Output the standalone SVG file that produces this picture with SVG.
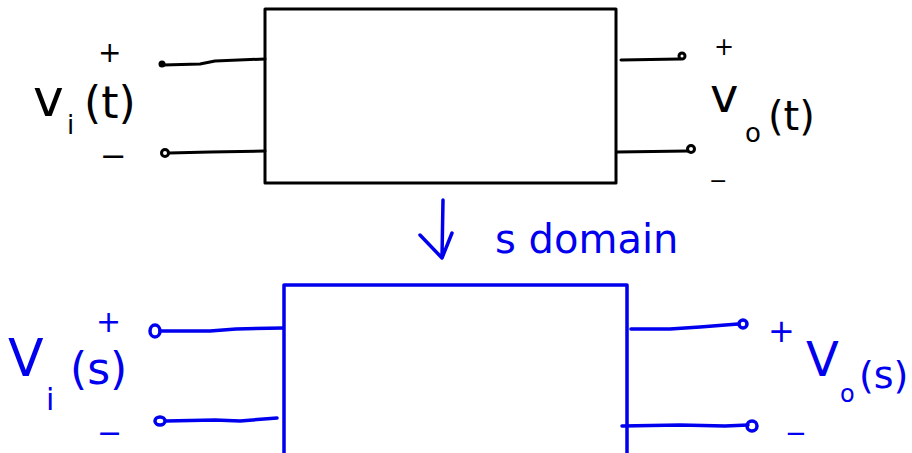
<svg xmlns="http://www.w3.org/2000/svg" width="912" height="453" viewBox="0 0 912 453">
<style>
.k{fill:none;stroke:#000;stroke-width:3;stroke-linecap:round;stroke-linejoin:round}
.b{fill:none;stroke:#0000ee;stroke-width:3.5;stroke-linecap:round;stroke-linejoin:round}
.tk{font-family:"DejaVu Sans",sans-serif;fill:#000}
.tb{font-family:"DejaVu Sans",sans-serif;fill:#0000ee}
</style>
<rect width="912" height="453" fill="#fff"/>
<g id="top-block"><rect x="265" y="9" width="351" height="174" class="k"/></g>
<g id="bottom-block"><rect x="284" y="285" width="343" height="172" class="b"/></g>
<g id="connectors">
<path class="k" d="M163,65 L200,64 L215,61 L265,59"/>
<circle cx="162" cy="64" r="3.5" fill="#000"/>
<path class="k" d="M169,153 L210,152 L265,151"/>
<circle cx="165" cy="153" r="3.5" class="k"/>
<path class="k" d="M621,60 L680,59"/>
<circle cx="682" cy="56" r="3" class="k"/>
<path class="k" d="M617,152 L688,151"/>
<circle cx="691" cy="149" r="3.5" class="k"/>
<path class="b" d="M160,331 L210,331 L236,329 L283,328"/>
<ellipse cx="155" cy="331" rx="5" ry="6" class="b"/>
<path class="b" d="M166,421 L215,420 L240,421 L277,418"/>
<ellipse cx="160" cy="421" rx="5" ry="4" class="b"/>
<path class="b" d="M631,329 L670,329 L700,327 L738,324"/>
<ellipse cx="743" cy="324" rx="4" ry="4" class="b"/>
<path class="b" d="M622,426 L680,425 L725,426 L748,425"/>
<ellipse cx="752" cy="426" rx="5" ry="5" class="b"/>
<path class="b" d="M443,200 L442,257 M420,235 L442,258 L452,233"/>
</g>
<g id="labels">
<text class="tk" x="98" y="62" font-size="28">+</text>
<text class="tk" x="100" y="167" font-size="32">−</text>
<text class="tk" x="33" y="116" font-size="52">v</text>
<text class="tk" x="67" y="134" font-size="26">i</text>
<text class="tk" x="84" y="118" font-size="44">(t)</text>
<text class="tk" x="714" y="55" font-size="24">+</text>
<text class="tk" x="709" y="188" font-size="22">−</text>
<text class="tk" x="710" y="112" font-size="48">v</text>
<text class="tk" x="745" y="142" font-size="26">o</text>
<text class="tk" x="768" y="130" font-size="40">(t)</text>
<text class="tb" x="495" y="253" font-size="40">s domain</text>
<text class="tb" x="96" y="332" font-size="30">+</text>
<text class="tb" x="97" y="443" font-size="30">−</text>
<text class="tb" x="8" y="376" font-size="52">V</text>
<text class="tb" x="46" y="410" font-size="30">i</text>
<text class="tb" x="70" y="384" font-size="44">(s)</text>
<text class="tb" x="768" y="342" font-size="32">+</text>
<text class="tb" x="785" y="442" font-size="26">−</text>
<text class="tb" x="806" y="376" font-size="48">V</text>
<text class="tb" x="840" y="402" font-size="24">o</text>
<text class="tb" x="859" y="388" font-size="38">(s)</text>
</g>
</svg>
